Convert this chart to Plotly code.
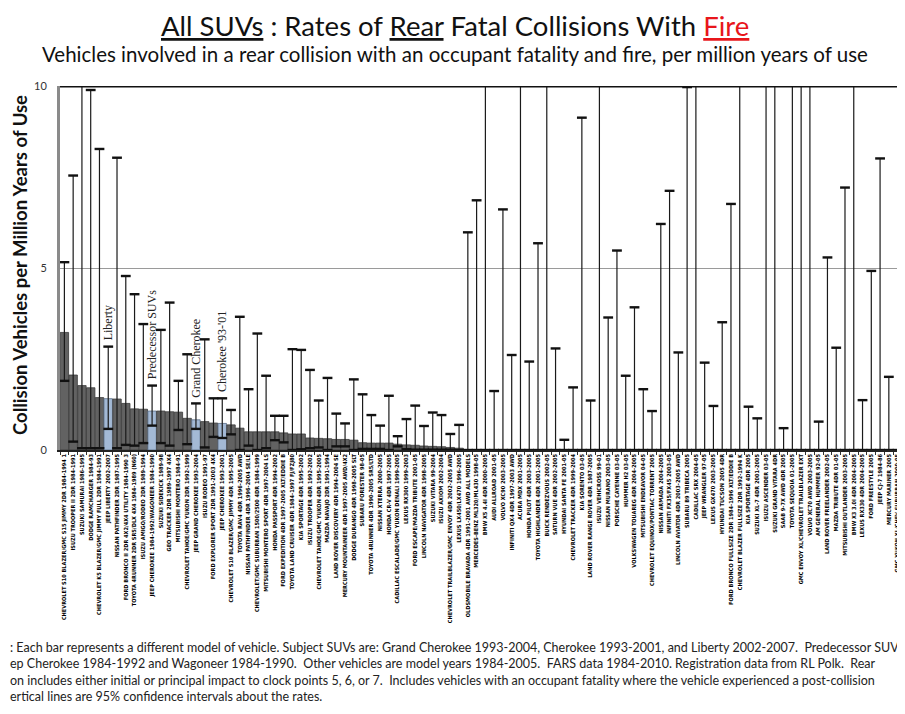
import plotly.graph_objects as go

# ---------------- data ----------------
labels = [
    "CHEVROLET S10 BLAZER/GMC S15 JIMMY 2DR 1984-1994 1",
    "ISUZU TROOPER II 2DR 1984-1991",
    "SUZUKI SAMURAI 1986-1995",
    "DODGE RAMCHARGER 1984-93",
    "CHEVROLET K5 BLAZER/GMC JIMMY FULL 2DR 1984-1991",
    "JEEP LIBERTY 2002-2007",
    "NISSAN PATHFINDER 2DR 1987-1995",
    "FORD BRONCO II 2DR 4X2/4X4 UTILITY 1984-1990 3",
    "TOYOTA 4RUNNER 2DR SR5/DLX 4X4 1984-1989 (N60)",
    "ISUZU AMIGO/RODEO 2DR 1989-1994",
    "JEEP CHEROKEE 1984-1992/WAGONEER 1984-1990",
    "SUZUKI SIDEKICK 1989-98",
    "GEO TRACKER 2DR 1989-1997 4X4",
    "MITSUBISHI MONTERO 1984-91",
    "CHEVROLET TAHOE/GMC YUKON 2DR 1992-1999",
    "JEEP GRAND CHEROKEE 1993-2004",
    "ISUZU RODEO 1991-97",
    "FORD EXPLORER SPORT 2DR 1991-2003 4X4",
    "JEEP CHEROKEE 1993-2001",
    "CHEVROLET S10 BLAZER/GMC JIMMY 4DR 1995-2005",
    "TOYOTA RAV4 4DR 1996-2005 AWD",
    "NISSAN PATHFINDER 4DR 1996-2004 SE/LE",
    "CHEVROLET/GMC SUBURBAN 1500/2500 4DR 1984-1999",
    "MITSUBISHI MONTERO SPORT 4DR 1997-2004 LS",
    "HONDA PASSPORT 4DR 1994-2002",
    "FORD EXPEDITION 4DR 1997-2005 XLT/EDDIE B",
    "TOYOTA LAND CRUISER 4DR 1984-1997 FJ/FZJ80",
    "KIA SPORTAGE 4DR 1995-2002",
    "ISUZU TROOPER 4DR 1992-2002",
    "CHEVROLET TAHOE/GMC YUKON 4DR 1995-2005",
    "MAZDA NAVAJO 2DR 1991-1994",
    "LAND ROVER DISCOVERY 4DR 1994-2004 SE",
    "MERCURY MOUNTAINEER 4DR 1997-2005 AWD/4X2",
    "DODGE DURANGO 4DR 1998-2005 SLT",
    "SUBARU FORESTER 98-05",
    "TOYOTA 4RUNNER 4DR 1990-2005 SR5/LTD",
    "NISSAN XTERRA 2000-2005",
    "HONDA CR-V 4DR 1997-2005",
    "CADILLAC ESCALADE/GMC YUKON DENALI 1999-2005",
    "LEXUS RX300 1999-2003",
    "FORD ESCAPE/MAZDA TRIBUTE 2001-05",
    "LINCOLN NAVIGATOR 4DR 1998-2005",
    "SUZUKI VITARA 99-2004",
    "ISUZU AXIOM 2002-2004",
    "CHEVROLET TRAILBLAZER/GMC ENVOY 4DR 2002-2005 AWD",
    "LEXUS LX450/LX470 1996-2005",
    "OLDSMOBILE BRAVADA 4DR 1991-2001 AWD ALL MODELS",
    "MERCEDES-BENZ ML320/ML430 1998-05",
    "BMW X5 4.4I 4DR 2000-2005",
    "AUDI ALLROAD 2001-05",
    "VOLVO XC90 2003-2005",
    "INFINITI QX4 4DR 1997-2003 AWD",
    "ACURA MDX 2001-2005",
    "HONDA PILOT 4DR 2003-2005",
    "TOYOTA HIGHLANDER 4DR 2001-2005",
    "BUICK RENDEZVOUS 2002-05",
    "SATURN VUE 4DR 2002-2005",
    "HYUNDAI SANTA FE 2001-05",
    "CHEVROLET TRACKER 4DR 1999-2004",
    "KIA SORENTO 03-05",
    "LAND ROVER RANGE ROVER 4DR 1987-2005",
    "ISUZU VEHICROSS 99-01",
    "NISSAN MURANO 2003-05",
    "PORSCHE CAYENNE 03-05",
    "HUMMER H2 03-05",
    "VOLKSWAGEN TOUAREG 4DR 2004-2005",
    "MITSUBISHI ENDEAVOR 04-05",
    "CHEVROLET EQUINOX/PONTIAC TORRENT 2005",
    "NISSAN ARMADA 2004-2005",
    "INFINITI FX35/FX45 2003-05",
    "LINCOLN AVIATOR 4DR 2003-2005 AWD",
    "SUBARU B9 TRIBECA 2005",
    "CADILLAC SRX 2004-05",
    "JEEP WRANGLER 97-05",
    "LEXUS GX470 2003-2005",
    "HYUNDAI TUCSON 2005 4DR",
    "FORD BRONCO FULLSIZE 2DR 1984-1996 XLT/EDDIE B",
    "CHEVROLET BLAZER FULLSIZE 2DR 1992-1994 K",
    "KIA SPORTAGE 4DR 2005",
    "SUZUKI XL-7 4DR 2001-2005",
    "ISUZU ASCENDER 03-05",
    "SUZUKI GRAND VITARA 4DR",
    "SAAB 9-7X AWD 4DR 2005",
    "TOYOTA SEQUOIA 01-2005",
    "GMC ENVOY XL/CHEVROLET TRAILBLAZER EXT",
    "VOLVO XC70 AWD 2003-2005",
    "AM GENERAL HUMMER 92-05",
    "LAND ROVER FREELANDER 2002-05",
    "MAZDA TRIBUTE 4DR 01-05",
    "MITSUBISHI OUTLANDER 2003-2005",
    "BMW X3 3.0I 4DR 2004-2005",
    "LEXUS RX330 4DR 2004-2005",
    "FORD FREESTYLE 2005",
    "JEEP CJ-7 1984-86",
    "MERCURY MARINER 2005",
    "GMC YUKON XL/CHEV SUBURBAN 2000-05",
]

rates = [
    3.23, 2.06, 1.77, 1.71, 1.44, 1.41, 1.40, 1.28, 1.13, 1.12,
    1.07, 1.07, 1.05, 1.04, 0.87, 0.83, 0.78, 0.74, 0.73, 0.69,
    0.60, 0.50, 0.50, 0.50, 0.50, 0.47, 0.44, 0.44, 0.33, 0.32,
    0.31, 0.29, 0.29, 0.27, 0.20, 0.19, 0.19, 0.19, 0.16, 0.14,
    0.13, 0.11, 0.10, 0.09, 0.07, 0.05, 0, 0, 0, 0,
    0, 0, 0, 0, 0, 0, 0, 0, 0, 0,
    0, 0, 0, 0, 0, 0, 0, 0, 0, 0,
    0, 0, 0, 0, 0, 0, 0, 0, 0, 0,
    0, 0, 0, 0, 0, 0, 0, 0, 0, 0,
    0, 0, 0, 0, 0, 0,
]

ci_low = [
    1.90, 0.23, 0.05, 0.05, 0.05, 0.58, 0.05, 0.14, 0.12, 0.19,
    0.67, 0.19, 0.12, 0.55, 0.16, 0.58, 0.07, 0.36, 0.33, 0.43,
    0.00, 0.12, 0.00, 0.05, 0.27, 0.21, 0.00, 0.02, 0.05, 0.07,
    0.00, 0.10, 0.10, 0.00, 0.03, 0.03, 0.03, 0.00, 0.10, 0.02,
    0.01, 0.01, 0.01, 0.01, 0.01, 0.00, 0, 0, 0, 0,
    0, 0, 0, 0, 0, 0, 0, 0, 0, 0,
    0, 0, 0, 0, 0, 0, 0, 0, 0, 0,
    0, 0, 0, 0, 0, 0, 0, 0, 0, 0,
    0, 0, 0, 0, 0, 0, 0, 0, 0, 0,
    0, 0, 0, 0, 0, 0,
]

# upper 95% limits; values above 10 run off the top of the chart
ci_high = [
    5.16, 7.54, 12.0, 9.89, 8.27, 2.84, 8.03, 4.78, 4.28, 3.46,
    1.77, 3.30, 4.05, 1.90, 2.63, 1.28, 3.04, 1.42, 1.42, 1.10,
    3.66, 1.67, 3.20, 2.04, 0.94, 0.94, 2.77, 2.75, 2.20, 1.36,
    1.98, 1.00, 0.73, 1.94, 1.53, 0.96, 0.67, 1.49, 0.38, 0.85,
    1.22, 0.66, 1.03, 0.96, 0.44, 0.69, 5.98, 6.86, 12.0, 1.62,
    6.61, 2.61, 12.0, 2.43, 5.68, 12.0, 2.79, 0.28, 1.72, 9.13,
    1.36, 12.0, 3.64, 5.48, 2.04, 3.92, 1.67, 1.07, 6.21, 7.12,
    2.68, 9.97, 12.0, 2.40, 1.21, 3.51, 6.76, 12.0, 1.19, 0.87,
    12.0, 12.0, 0.60, 12.0, 12.0, 12.0, 0.78, 5.29, 2.81, 7.21,
    12.0, 1.37, 4.92, 8.01, 2.01, 12.0,
]

subject_labels = [
    "JEEP LIBERTY 2002-2007",
    "JEEP CHEROKEE 1984-1992/WAGONEER 1984-1990",
    "JEEP GRAND CHEROKEE 1993-2004",
    "JEEP CHEROKEE 1993-2001",
]
subject_notes = ["Liberty", "Predecessor SUVs", "Grand Cherokee", "Cherokee '93-'01"]

title_html = ("<u>All SUVs</u> : Rates of <u>Rear</u> Fatal Collisions With "
              "<span style='color:#e8161b'><u>Fire</u></span>")
subtitle = ("Vehicles involved in a rear collision with an occupant fatality and fire, "
            "per million years of use")
y_title = "Collision Vehicles per Million Years of Use"
footnote_lines = [
    ": Each bar represents a different model of vehicle. Subject SUVs are: Grand Cherokee 1993-2004, "
    "Cherokee 1993-2001, and Liberty 2002-2007.  Predecessor SUV",
    "ep Cherokee 1984-1992 and Wagoneer 1984-1990.  Other vehicles are model years 1984-2005.  "
    "FARS data 1984-2010. Registration data from RL Polk.  Rear",
    "on includes either initial or principal impact to clock points 5, 6, or 7.  Includes vehicles "
    "with an occupant fatality where the vehicle experienced a post-collision",
    "ertical lines are 95% confidence intervals about the rates.",
]

# ---------------- figure ----------------
# page has an 8px body margin, so the figure is drawn 8px right/down
OFF = 8
W, H = 897, 706
L, R, T, B = 52, 3, 78, 264
pw, ph = W - L - R, H - T - B


def px_x(x_page):
    return (x_page - OFF - L) / pw


def px_y(y_page):
    return (H - B - (y_page - OFF)) / ph


bar_colors = ["#a3b9d5" if lab in subject_labels else "#626262" for lab in labels]
line_colors = ["#5b6d85" if lab in subject_labels else "#3a3a3a" for lab in labels]

fig = go.Figure()
fig.add_trace(go.Bar(
    x=labels, y=rates,
    marker=dict(color=bar_colors, line=dict(color=line_colors, width=0.8)),
    error_y=dict(type="data", symmetric=False,
                 array=[h - r for h, r in zip(ci_high, rates)],
                 arrayminus=[r - l for r, l in zip(rates, ci_low)],
                 color="#1a1a1a", thickness=1.2, width=0),
    hoverinfo="skip",
))
# whisker caps
for vals in (ci_high, ci_low):
    fig.add_trace(go.Scatter(
        x=labels, y=vals, mode="markers",
        marker=dict(symbol="line-ew", size=7, line=dict(width=2.4, color="#111")),
        hoverinfo="skip",
    ))

annotations = [
    dict(text=title_html, xref="paper", yref="paper", x=px_x(455), y=px_y(25.5),
         xanchor="center", yanchor="middle", showarrow=False,
         font=dict(family="Lato, Open Sans, sans-serif", size=27.5, color="#111")),
    dict(text=subtitle, xref="paper", yref="paper", x=px_x(455), y=px_y(54),
         xanchor="center", yanchor="middle", showarrow=False,
         font=dict(family="Lato, Open Sans, sans-serif", size=20.5, color="#111")),
    dict(text="<b>" + y_title + "</b>", xref="paper", yref="paper", x=px_x(20), y=px_y(265),
         xanchor="center", yanchor="middle", textangle=-90, showarrow=False,
         font=dict(family="Lato, Open Sans, sans-serif", size=18.5, color="#111")),
    dict(text="<br>".join(footnote_lines), xref="paper", yref="paper", x=px_x(OFF), y=px_y(638),
         xanchor="left", yanchor="top", align="left", showarrow=False,
         font=dict(family="Lato, Open Sans, sans-serif", size=12.5, color="#222")),
]
for lab, note in zip(subject_labels, subject_notes):
    i = labels.index(lab)
    annotations.append(dict(
        text=note, x=lab, y=ci_high[i], xref="x", yref="y",
        xanchor="center", yanchor="bottom", textangle=-90, showarrow=False, yshift=4,
        font=dict(family="Liberation Serif, Times New Roman, serif", size=12, color="#222"),
    ))

fig.update_layout(
    width=W, height=H,
    margin=dict(l=L, r=R, t=T, b=B, pad=0),
    paper_bgcolor="white", plot_bgcolor="white",
    showlegend=False, bargap=0.04,
    annotations=annotations,
    shapes=[
        dict(type="line", xref="paper", yref="y", x0=0, x1=1, y0=10, y1=10,
             line=dict(color="#111", width=3)),
        dict(type="line", xref="paper", yref="y", x0=1, x1=1, y0=0, y1=10,
             line=dict(color="#333", width=2)),
    ],
)
fig.update_xaxes(
    type="category", range=[-0.5, len(labels) - 0.5],
    tickmode="linear", tick0=0, dtick=1, tickangle=-90,
    tickfont=dict(family="Liberation Sans Narrow, DejaVu Sans Condensed, Arial Narrow, sans-serif",
                  size=5.6, color="#000", weight="bold"),
    showline=True, linecolor="#222", linewidth=1.5,
    ticks="outside", ticklen=3, tickcolor="#333", tickson="boundaries",
    showgrid=False, automargin=False,
)
fig.update_yaxes(
    range=[0, 10], tickvals=[0, 5, 10], ticktext=["0", "5", "10"],
    showgrid=True, gridcolor="#9a9a9a", gridwidth=1, zeroline=False,
    showline=True, linecolor="#8a8a8a", linewidth=3,
    ticks="", ticklabelstandoff=8,
    tickfont=dict(family="Lato, Open Sans, sans-serif", size=11, color="#333"),
    automargin=False,
)

fig.write_html("out.html")
